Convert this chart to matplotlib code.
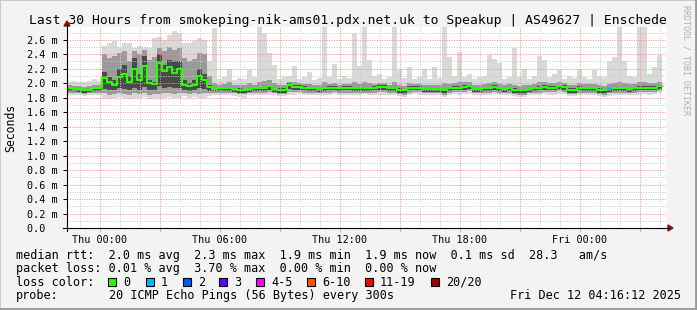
import numpy as np
import matplotlib
matplotlib.use("Agg")
import matplotlib.pyplot as plt
from matplotlib.patches import Polygon, Rectangle
from matplotlib.lines import Line2D

# ---- data (ms), 15 minute steps starting Wed 22:21 (hours relative to Thu 00:00) ----
t_start = -1.65
step_h = 0.25

median_ms = [
    1.93, 1.92, 1.92, 1.90, 1.91, 1.93, 1.93, 2.07, 2.02, 1.98,
    2.08, 2.12, 2.01, 2.20, 2.05, 2.24, 2.00, 1.99, 2.28, 2.17,
    2.22, 2.14, 2.20, 1.98, 1.96, 1.98, 2.10, 2.04, 1.95, 1.92,
    1.93, 1.93, 1.93, 1.92, 1.91, 1.90, 1.92, 1.93, 1.93, 1.93,
    1.96, 1.92, 1.91, 1.91, 1.98, 1.95, 1.95, 1.94, 1.93, 1.93,
    1.92, 1.93, 1.94, 1.94, 1.93, 1.94, 1.94, 1.93, 1.93, 1.93,
    1.93, 1.94, 1.95, 1.95, 1.93, 1.93, 1.91, 1.90, 1.94, 1.94,
    1.94, 1.92, 1.92, 1.92, 1.92, 1.90, 1.93, 1.94, 1.94, 1.95,
    1.96, 1.92, 1.92, 1.93, 1.93, 1.95, 1.93, 1.92, 1.93, 1.91,
    1.90, 1.90, 1.92, 1.93, 1.94, 1.95, 1.94, 1.94, 1.96, 1.95,
    1.91, 1.91, 1.94, 1.93, 1.93, 1.93, 1.91, 1.90, 1.92, 1.93,
    1.93, 1.93, 1.92, 1.93, 1.94, 1.94, 1.94, 1.94, 1.96,
]

# smoke: outer (min/max of pings), middle and inner bands
smoke_max = [
    2.02, 2.03, 2.02, 2.01, 2.03, 2.06, 2.03, 2.52, 2.55, 2.58,
    2.50, 2.56, 2.55, 2.48, 2.52, 2.50, 2.48, 2.62, 2.64, 2.60,
    2.66, 2.72, 2.70, 2.56, 2.55, 2.58, 2.62, 2.60, 2.30, 2.76,
    2.06, 2.08, 2.20, 2.05, 2.07, 2.06, 2.18, 2.08, 2.77, 2.70,
    2.42, 2.25, 2.06, 2.08, 2.10, 2.24, 2.06, 2.08, 2.15, 2.05,
    2.07, 2.77, 2.08, 2.26, 2.06, 2.10, 2.07, 2.70, 2.24, 2.77,
    2.32, 2.10, 2.12, 2.06, 2.08, 2.77, 2.18, 2.07, 2.22, 2.06,
    2.08, 2.20, 2.06, 2.22, 2.07, 2.77, 2.36, 2.10, 2.43, 2.08,
    2.12, 2.06, 2.08, 2.10, 2.39, 2.34, 2.28, 2.06, 2.08, 2.49,
    2.08, 2.20, 2.06, 2.10, 2.38, 2.32, 2.08, 2.12, 2.18, 2.06,
    2.10, 2.07, 2.18, 2.08, 2.06, 2.18, 2.10, 2.08, 2.30, 2.36,
    2.77, 2.30, 2.10, 2.08, 2.77, 2.77, 2.12, 2.22, 2.39,
]
smoke_min = [
    1.84, 1.84, 1.83, 1.82, 1.83, 1.84, 1.84, 1.80, 1.78, 1.79,
    1.81, 1.80, 1.78, 1.80, 1.79, 1.81, 1.78, 1.80, 1.79, 1.80,
    1.81, 1.79, 1.80, 1.82, 1.80, 1.81, 1.79, 1.80, 1.82, 1.84,
    1.84, 1.83, 1.84, 1.82, 1.81, 1.80, 1.83, 1.84, 1.84, 1.83,
    1.84, 1.83, 1.82, 1.82, 1.84, 1.84, 1.85, 1.84, 1.83, 1.84,
    1.83, 1.84, 1.84, 1.85, 1.84, 1.84, 1.83, 1.84, 1.84, 1.85,
    1.84, 1.83, 1.84, 1.84, 1.83, 1.84, 1.82, 1.81, 1.84, 1.85,
    1.84, 1.83, 1.83, 1.84, 1.83, 1.81, 1.84, 1.85, 1.84, 1.85,
    1.85, 1.83, 1.83, 1.84, 1.84, 1.85, 1.84, 1.83, 1.84, 1.82,
    1.81, 1.81, 1.83, 1.84, 1.84, 1.85, 1.84, 1.84, 1.85, 1.85,
    1.82, 1.82, 1.84, 1.84, 1.84, 1.83, 1.82, 1.81, 1.82, 1.83,
    1.84, 1.84, 1.83, 1.84, 1.84, 1.85, 1.84, 1.85, 1.86,
]
mid_hi = [
    1.97, 1.96, 1.96, 1.95, 1.96, 1.98, 1.97, 2.40, 2.35, 2.38,
    2.42, 2.45, 2.30, 2.44, 2.40, 2.46, 2.32, 2.36, 2.48, 2.45,
    2.50, 2.46, 2.48, 2.35, 2.30, 2.34, 2.42, 2.40, 2.10, 2.00,
    1.98, 1.99, 2.01, 1.98, 1.97, 1.97, 2.00, 1.98, 2.02, 2.03,
    2.04, 2.00, 1.97, 1.97, 2.02, 2.01, 2.00, 1.99, 1.99, 1.98,
    1.98, 2.02, 1.99, 2.00, 1.98, 1.99, 1.99, 2.01, 1.99, 2.02,
    2.00, 1.99, 2.00, 2.00, 1.98, 2.02, 1.97, 1.96, 2.00, 1.99,
    1.99, 1.98, 1.97, 1.98, 1.97, 2.00, 1.99, 2.00, 2.01, 2.01,
    2.02, 1.98, 1.98, 1.99, 2.00, 2.01, 1.99, 1.98, 1.99, 1.98,
    1.96, 1.97, 1.98, 1.99, 2.01, 2.01, 2.00, 2.00, 2.02, 2.00,
    1.97, 1.97, 2.00, 1.99, 1.99, 1.99, 1.97, 1.96, 1.99, 2.00,
    2.02, 2.00, 1.99, 1.99, 2.01, 2.01, 2.00, 2.00, 2.02,
]
mid_lo = [
    1.87, 1.87, 1.86, 1.85, 1.86, 1.87, 1.87, 1.86, 1.84, 1.85,
    1.86, 1.85, 1.84, 1.86, 1.85, 1.86, 1.84, 1.85, 1.85, 1.86,
    1.86, 1.85, 1.86, 1.86, 1.85, 1.86, 1.85, 1.86, 1.86, 1.87,
    1.87, 1.87, 1.87, 1.86, 1.85, 1.85, 1.86, 1.87, 1.87, 1.87,
    1.88, 1.86, 1.85, 1.85, 1.88, 1.88, 1.88, 1.87, 1.87, 1.87,
    1.86, 1.87, 1.87, 1.88, 1.87, 1.87, 1.87, 1.87, 1.87, 1.87,
    1.87, 1.87, 1.88, 1.88, 1.87, 1.87, 1.85, 1.84, 1.87, 1.88,
    1.88, 1.86, 1.86, 1.86, 1.86, 1.84, 1.87, 1.88, 1.88, 1.88,
    1.89, 1.86, 1.86, 1.87, 1.87, 1.88, 1.87, 1.86, 1.87, 1.85,
    1.84, 1.84, 1.86, 1.87, 1.87, 1.88, 1.88, 1.88, 1.89, 1.88,
    1.85, 1.85, 1.87, 1.87, 1.87, 1.87, 1.85, 1.84, 1.86, 1.87,
    1.87, 1.87, 1.86, 1.87, 1.88, 1.88, 1.88, 1.88, 1.89,
]
dark_hi = [
    1.94, 1.93, 1.93, 1.91, 1.92, 1.94, 1.94, 2.15, 2.08, 2.05,
    2.20, 2.25, 2.10, 2.35, 2.12, 2.38, 2.05, 2.02, 2.40, 2.25,
    2.32, 2.30, 2.30, 2.05, 2.00, 2.05, 2.20, 2.12, 1.98, 1.94,
    1.95, 1.95, 1.95, 1.94, 1.93, 1.92, 1.94, 1.95, 1.95, 1.95,
    1.98, 1.94, 1.93, 1.93, 2.00, 1.97, 1.97, 1.96, 1.95, 1.95,
    1.94, 1.95, 1.96, 1.96, 1.95, 1.96, 1.96, 1.95, 1.95, 1.95,
    1.95, 1.96, 1.97, 1.97, 1.95, 1.95, 1.93, 1.92, 1.96, 1.96,
    1.96, 1.94, 1.94, 1.94, 1.94, 1.92, 1.95, 1.96, 1.96, 1.97,
    1.98, 1.94, 1.94, 1.95, 1.95, 1.97, 1.95, 1.94, 1.95, 1.93,
    1.92, 1.92, 1.94, 1.95, 1.96, 1.97, 1.96, 1.96, 1.98, 1.97,
    1.93, 1.93, 1.96, 1.95, 1.95, 1.95, 1.93, 1.92, 1.94, 1.95,
    1.95, 1.95, 1.94, 1.95, 1.96, 1.96, 1.96, 1.96, 1.98,
]
dark_lo = [
    1.89, 1.89, 1.88, 1.87, 1.88, 1.89, 1.89, 1.92, 1.90, 1.90,
    1.93, 1.92, 1.90, 1.94, 1.91, 1.95, 1.90, 1.90, 1.96, 1.94,
    1.95, 1.93, 1.94, 1.90, 1.89, 1.90, 1.93, 1.92, 1.89, 1.89,
    1.89, 1.89, 1.89, 1.88, 1.87, 1.86, 1.88, 1.89, 1.89, 1.89,
    1.91, 1.88, 1.87, 1.87, 1.92, 1.90, 1.90, 1.90, 1.89, 1.89,
    1.88, 1.89, 1.90, 1.90, 1.89, 1.90, 1.90, 1.89, 1.89, 1.89,
    1.89, 1.90, 1.91, 1.91, 1.89, 1.89, 1.87, 1.86, 1.90, 1.90,
    1.90, 1.88, 1.88, 1.88, 1.88, 1.86, 1.89, 1.90, 1.90, 1.91,
    1.92, 1.88, 1.88, 1.89, 1.89, 1.91, 1.89, 1.88, 1.89, 1.87,
    1.86, 1.86, 1.88, 1.89, 1.90, 1.91, 1.90, 1.90, 1.92, 1.91,
    1.87, 1.87, 1.90, 1.89, 1.89, 1.89, 1.87, 1.86, 1.88, 1.89,
    1.89, 1.89, 1.88, 1.89, 1.90, 1.90, 1.90, 1.90, 1.92,
]

# steps with lost pings (index, lost count out of 20)
loss_steps = [108]
loss_counts = [1]

x_tick_hours = [0, 6, 12, 18, 24]
x_tick_labels = ["Thu 00:00", "Thu 06:00", "Thu 12:00", "Thu 18:00", "Fri 00:00"]
y_ticks = [0.0, 0.2, 0.4, 0.6, 0.8, 1.0, 1.2, 1.4, 1.6, 1.8, 2.0, 2.2, 2.4, 2.6]

loss_names = ["0", "1", "2", "3", "4-5", "6-10", "11-19", "20/20"]
loss_colors = ["#26ff00", "#00b8ff", "#0059ff", "#5e00ff", "#ff00ff", "#ff5500", "#ff0000", "#a10000"]

title = "Last 30 Hours from smokeping-nik-ams01.pdx.net.uk to Speakup | AS49627 | Enschede"
row_rtt = "median rtt:  2.0 ms avg  2.3 ms max  1.9 ms min  1.9 ms now  0.1 ms sd  28.3   am/s"
row_loss = "packet loss: 0.01 % avg  3.70 % max  0.00 % min  0.00 % now"
probe_txt = "20 ICMP Echo Pings (56 Bytes) every 300s"
stamp_txt = "Fri Dec 12 04:16:12 2025"

# ---- figure ----
W, H = 697, 310
MONO = "DejaVu Sans Mono"
plt.rcParams['font.family'] = MONO


def fx(x):
    return x / W


def fy(y):
    return 1 - y / H


fig = plt.figure(figsize=(W / 100, H / 100), dpi=100, facecolor="#f3f3f3")

# 3d border
fig.patches.append(Rectangle((0, 0), 1, 1, transform=fig.transFigure, fill=False,
                             edgecolor="#cbcbcb", lw=1.5))
fig.add_artist(Line2D([fx(0), fx(W)], [fy(H - 1), fy(H - 1)], color="#999999", lw=2))
fig.add_artist(Line2D([fx(W - 1), fx(W - 1)], [fy(0), fy(H)], color="#999999", lw=2))

ax = fig.add_axes([fx(67), fy(228), 600 / W, 201 / H])
ax.set_facecolor("white")
ax.set_xlim(t_start, t_start + 30)
ax.set_ylim(0, 2.776)
for s in ax.spines.values():
    s.set_visible(False)

n = len(median_ms)
x_edges = t_start + step_h * np.arange(n + 1)


def ext(a):
    return np.append(a, a[-1])


ax.fill_between(x_edges, ext(smoke_min), ext(smoke_max), step="post",
                color="#d9d9d9", lw=0, zorder=1)
ax.fill_between(x_edges, ext(mid_lo), ext(mid_hi), step="post",
                color="#9a9a9a", lw=0, zorder=1.2)
ax.fill_between(x_edges, ext(dark_lo), ext(dark_hi), step="post",
                color="#4a4a4a", lw=0, zorder=1.4)

# grid (drawn over the smoke as rrdtool does), 1px on / 1px off
dot = (0, (1.0, 1.4))
for h in range(-1, 29):
    if h % 3 != 0:
        ax.axvline(h, color="#c8c8c8", lw=0.72, ls=dot, zorder=2)
for v in np.arange(0.1, 2.78, 0.2):
    ax.axhline(v, color="#c8c8c8", lw=0.72, ls=dot, zorder=2)
for h in range(0, 29, 3):
    ax.axvline(h, color="#ff8c8c", lw=0.72, ls=dot, zorder=2.1)
for v in y_ticks[1:]:
    ax.axhline(v, color="#ff8c8c", lw=0.72, ls=dot, zorder=2.1)

# median line coloured by loss
ax.step(x_edges, ext(median_ms), where="post", color=loss_colors[0], lw=1.5, zorder=4)
for i, c in zip(loss_steps, loss_counts):
    ax.plot([x_edges[i], x_edges[i + 1]], [median_ms[i], median_ms[i]],
            color=loss_colors[c], lw=1.5, zorder=5, solid_capstyle="butt")

# ticks
ax.set_xticks(range(0, 29, 3))
ax.set_xticklabels([x_tick_labels[x_tick_hours.index(h)] if h in x_tick_hours else ""
                    for h in range(0, 29, 3)])
ax.tick_params(axis="x", length=3, width=0.72, color="#ff9c9c", pad=1.8,
               labelsize=7.3, labelcolor="#000000")
ax.set_yticks(y_ticks)
ax.set_yticklabels(["%.1f m" % v if v > 0 else "0.0  " for v in y_ticks])
ax.tick_params(axis="y", length=3, width=0.72, color="#000000", pad=4,
               labelsize=7.3, labelcolor="#000000")

# axis lines with arrows
fig.add_artist(Line2D([fx(63), fx(669)], [fy(228), fy(228)], color="black", lw=0.8))
fig.add_artist(Line2D([fx(67), fx(67)], [fy(231), fy(24)], color="black", lw=0.8))
fig.patches.append(Polygon([(fx(668), fy(225)), (fx(668), fy(231)), (fx(673), fy(228))],
                           closed=True, transform=fig.transFigure, color="#8b1010"))
fig.patches.append(Polygon([(fx(64), fy(26)), (fx(70), fy(26)), (fx(67), fy(21))],
                           closed=True, transform=fig.transFigure, color="#8b1010"))

# texts
fig.text(fx(348), fy(24), title, ha="center", va="baseline", fontsize=9.35)
fig.text(fx(11), fy(127.5), "Seconds", rotation=90, ha="center", va="center", fontsize=8.3)
fig.text(fx(686), fy(5), "RRDTOOL / TOBI OETIKER", rotation=-90, ha="center", va="top",
         fontsize=6.0, color="#b0b0b0")

LS = 8.5
fig.text(fx(16), fy(258.5), row_rtt, ha="left", va="baseline", fontsize=LS)
fig.text(fx(16), fy(272), row_loss, ha="left", va="baseline", fontsize=LS)
fig.text(fx(16), fy(285.5), "loss color:", ha="left", va="baseline", fontsize=LS)
box_x = [108.3, 145.7, 182.7, 219.3, 256.0, 307.3, 365.0, 430.7]
for bx, name, col in zip(box_x, loss_names, loss_colors):
    fig.patches.append(Rectangle((fx(bx), fy(286)), 8 / W, 8 / H, transform=fig.transFigure,
                                 facecolor=col, edgecolor="black", lw=0.8))
    fig.text(fx(bx + 15), fy(285.5), name, ha="left", va="baseline", fontsize=LS)
fig.text(fx(16), fy(299), "probe:", ha="left", va="baseline", fontsize=LS)
fig.text(fx(108.7), fy(299), probe_txt, ha="left", va="baseline", fontsize=LS)
fig.text(fx(681), fy(299), stamp_txt, ha="right", va="baseline", fontsize=LS)

fig.savefig("out.png", dpi=100, facecolor=fig.get_facecolor())
